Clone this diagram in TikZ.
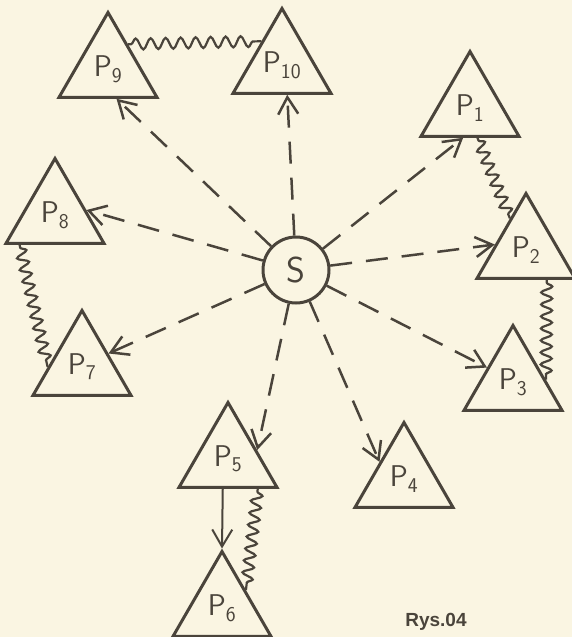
\documentclass[tikz,border=0pt]{standalone}
\usepackage{fontspec}
\newfontfamily\capfont{Liberation Sans}
\usetikzlibrary{arrows.meta, shapes.geometric, decorations.pathmorphing}
\definecolor{paper}{HTML}{FAF5E2}
\definecolor{ink}{HTML}{4A443B}

\begin{document}
\begin{tikzpicture}[x=1pt, y=-1pt,
  >={Straight Barb[length=17pt, width=20pt]},
  proc/.style={draw=ink, line width=3pt, regular polygon, regular polygon sides=3,
    minimum size=113pt, inner sep=0pt, text=ink, font=\sffamily\fontsize{30}{32}\selectfont},
  src/.style={draw=ink, line width=3pt, circle, minimum size=66pt, inner sep=0pt,
    text=ink, font=\sffamily\fontsize{36}{38}\selectfont},
  ray/.style={ink, line width=2.5pt, dash pattern=on 22pt off 14pt, ->},
  link/.style={ink, line width=2pt, ->},
  spring/.style={ink, line width=2.2pt, decorate,
    decoration={snake, amplitude=5.5pt, segment length=#1, pre length=3pt, post length=3pt}},
  spring/.default=12pt]

% Background
\useasboundingbox (0,0) rectangle (572,637);
\fill[paper] (0,0) rectangle (572,637);

% ============================================================
% Source and processes
% ============================================================
\node[src] (S) at (296,270) {S};

\foreach \nm/\cx/\cy/\idx in {P1/470/108/1, P2/526/250/2, P3/513/382/3, P4/404/479/4,
  P5/228/459/5, P6/222/608/6, P7/82/367/7, P8/55/215/8, P9/108/69/9, P10/282/65/10} {
  \node[proc] (\nm) at (\cx,\cy) {P\textsubscript{\idx}};
}

% ============================================================
% Dashed rays from S
% ============================================================
\foreach \nm/\ang in {P1/-103, P2/170, P3/151, P4/145, P5/17, P7/27, P8/9, P9/-74, P10/-80} {
  \draw[ray] (S) -- (\nm.\ang);
}

% P5 -> P6
\draw[link] (P5.-100) -- (P6.corner 1);

% ============================================================
% Wavy couplings
% ============================================================
\draw[spring=15pt] (P9.51) -- (P10.131);
\draw[spring] (P1.-76) -- (P2.117);
\draw[spring] (P2.-55) -- (P3.4);
\draw[spring] (P8.-140) -- (P7.180);
\draw[spring] (P5.-45) -- (P6.37);

% Caption
\node[text=ink, font=\capfont\bfseries\fontsize{19}{21}\selectfont] (rys) at (436,622) {Rys.04};

\end{tikzpicture}
\end{document}
